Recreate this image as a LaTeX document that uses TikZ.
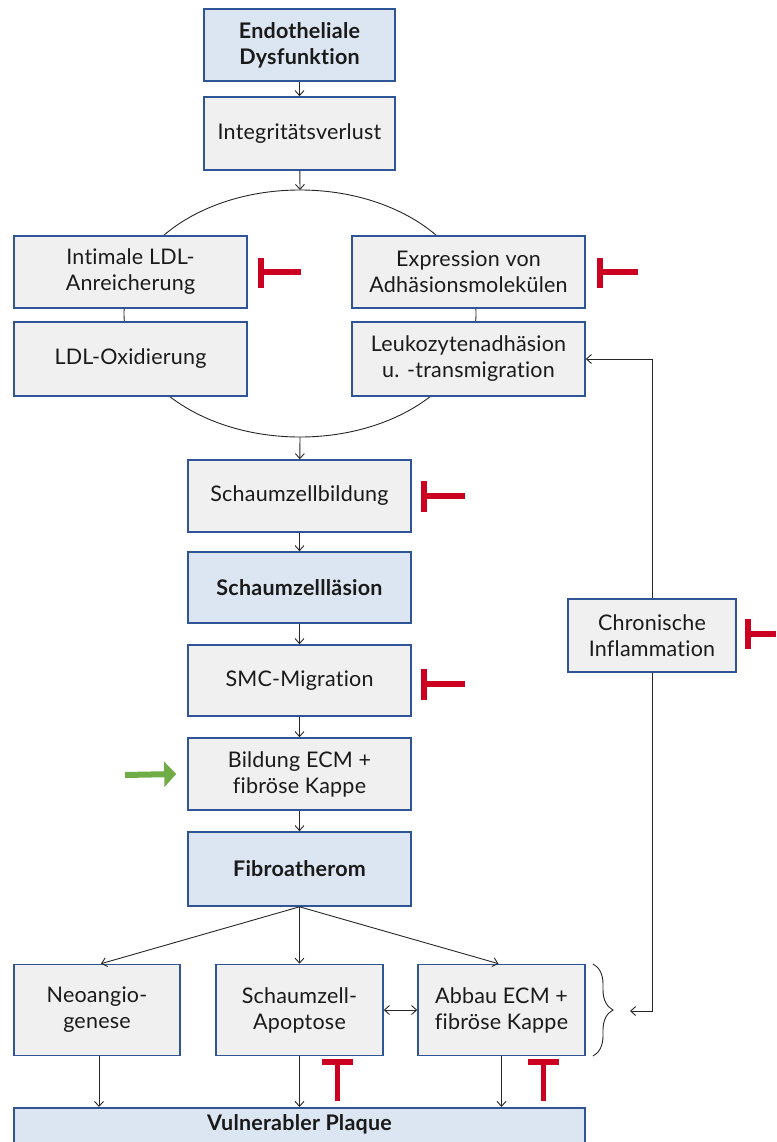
\documentclass[tikz,border=0pt]{standalone}
\usepackage{fontspec}
\setmainfont{Lato}[Ligatures=NoCommon, LetterSpace=1.0]
\usetikzlibrary{arrows.meta,decorations.pathreplacing}
\definecolor{bordblue}{HTML}{2F5597}
\definecolor{lblue}{HTML}{DCE6F2}
\definecolor{lgray}{HTML}{F0F0F0}
\definecolor{inhred}{HTML}{CC0020}
\definecolor{actgreen}{HTML}{70AD47}
\definecolor{txt}{HTML}{1A1A1A}
\begin{document}
\begin{tikzpicture}[x=1pt,y=-1pt,
  box/.style={draw=bordblue, line width=1.6pt, fill=lgray, text=txt, align=center, inner sep=0pt, font=\fontsize{21.5}{26}\selectfont},
  bbox/.style={box, fill=lblue, font=\fontsize{21.5}{26}\selectfont\bfseries},
  conn/.style={draw=black!85, line width=0.9pt, -{Straight Barb[length=5pt,width=9pt]}},
  dconn/.style={draw=black!85, line width=0.9pt, {Straight Barb[length=5pt,width=9pt]}-{Straight Barb[length=5pt,width=9pt]}},
  inh/.style={draw=inhred, line width=5.5pt},
]
\useasboundingbox (0,0) rectangle (776,1142);
\clip (0,0) rectangle (776,1142);

% ellipse behind the four boxes
\draw[line width=0.9pt, black!85] (300,313.5) ellipse [x radius=176, y radius=123.5];
\coordinate (arctop) at (300,190);
\coordinate (arcbot) at (300,437);

\node[bbox, minimum width=191pt, minimum height=72pt] (endo) at (299.5,45) {Endotheliale\\Dysfunktion};
\node[box, minimum width=191pt, minimum height=73pt] (integ) at (299.5,133.5) {Integritätsverlust};

\node[box, minimum width=233pt, minimum height=72pt] (intim) at (130.5,272) {Intimale LDL-\\Anreicherung};
\node[box, minimum width=233pt, minimum height=72pt] (expr) at (468.5,272) {Expression von\\Adhäsionsmolekülen};
\node[box, minimum width=233pt, minimum height=74pt] (ldlox) at (130.5,359) {LDL-Oxidierung};
\node[box, minimum width=233pt, minimum height=74pt] (leuko) at (468.5,359) {Leukozytenadhäsion\\u. -transmigration};

\node[box, minimum width=223pt, minimum height=72pt] (sbild) at (299.5,496) {Schaumzellbildung};
\node[bbox, minimum width=223pt, minimum height=71pt] (slaes) at (299.5,587.5) {Schaumzellläsion};
\node[box, minimum width=223pt, minimum height=71pt] (smc) at (299.5,680.5) {SMC-Migration};
\node[box, minimum width=223pt, minimum height=72pt] (ecm) at (299.5,774) {Bildung ECM +\\fibröse Kappe};
\node[bbox, minimum width=223pt, minimum height=74pt] (fibro) at (299.5,869) {Fibroatherom};

\node[box, minimum width=166pt, minimum height=91pt] (neo) at (97,1010) {Neoangio-\\genese};
\node[box, minimum width=167pt, minimum height=91pt] (apop) at (299.5,1010) {Schaumzell-\\Apoptose};
\node[box, minimum width=167pt, minimum height=91pt] (abbau) at (501.5,1010) {Abbau ECM +\\fibröse Kappe};

\node[box, minimum width=168pt, minimum height=73pt] (chron) at (652,635.5) {Chronische\\Inflammation};

\node[bbox, anchor=north, minimum width=571pt, minimum height=60pt] (vp) at (299.5,1107) {};
\node[font=\fontsize{21.5}{26}\selectfont\bfseries, text=txt] (vptext) at (299.5,1124) {Vulnerabler Plaque};

% connectors
\draw[conn] (endo) -- (integ);
\draw[conn] (integ) -- (arctop);
\draw[conn] (arcbot) -- (sbild);
\draw[conn] (sbild) -- (slaes);
\draw[conn] (slaes) -- (smc);
\draw[conn] (smc) -- (ecm);
\draw[conn] (ecm) -- (fibro);
\draw[conn] (fibro.south) -- ([xshift=4pt]neo.north);
\draw[conn] (fibro.south) -- (apop.north);
\draw[conn] (fibro.south) -- ([xshift=-3pt]abbau.north);
\draw[dconn] (apop) -- (abbau);
\draw[conn] ([xshift=2pt]neo.south) -- ([xshift=2pt]neo.south |- vp.north);
\draw[conn] (apop.south) -- (apop.south |- vp.north);
\draw[conn] (abbau.south) -- (abbau.south |- vp.north);

\coordinate (brtip) at (630,1011);
\draw[conn] (chron.north) |- (leuko.east);
\draw[conn] (chron.south) |- (brtip);
\draw[line width=0.9pt, black!85, decorate, decoration={brace, amplitude=20pt}] (593,964) -- (593,1056);

% green activation arrow
\coordinate (gstart) at (125,775);
\draw[draw=actgreen, line width=6pt, -{Triangle[length=12pt, width=25pt]}] (gstart) -- ([xshift=-11pt]ecm.west);

% red inhibitors
\draw[inh] (261,258) -- (261,288);
\draw[inh] (261,272) -- (301,272);
\draw[inh] (600,258) -- (600,288);
\draw[inh] (600,272) -- (638,272);
\draw[inh] (424,481) -- (424,512);
\draw[inh] (424,496) -- (465,496);
\draw[inh] (424,669) -- (424,700);
\draw[inh] (424,684) -- (465,684);
\draw[inh] (748,619) -- (748,649);
\draw[inh] (748,634) -- (776,634);
\draw[inh] (322,1062) -- (353,1062);
\draw[inh] (337.5,1062) -- (337.5,1101);
\draw[inh] (528,1062) -- (559,1062);
\draw[inh] (543.5,1062) -- (543.5,1101);
\end{tikzpicture}
\end{document}
